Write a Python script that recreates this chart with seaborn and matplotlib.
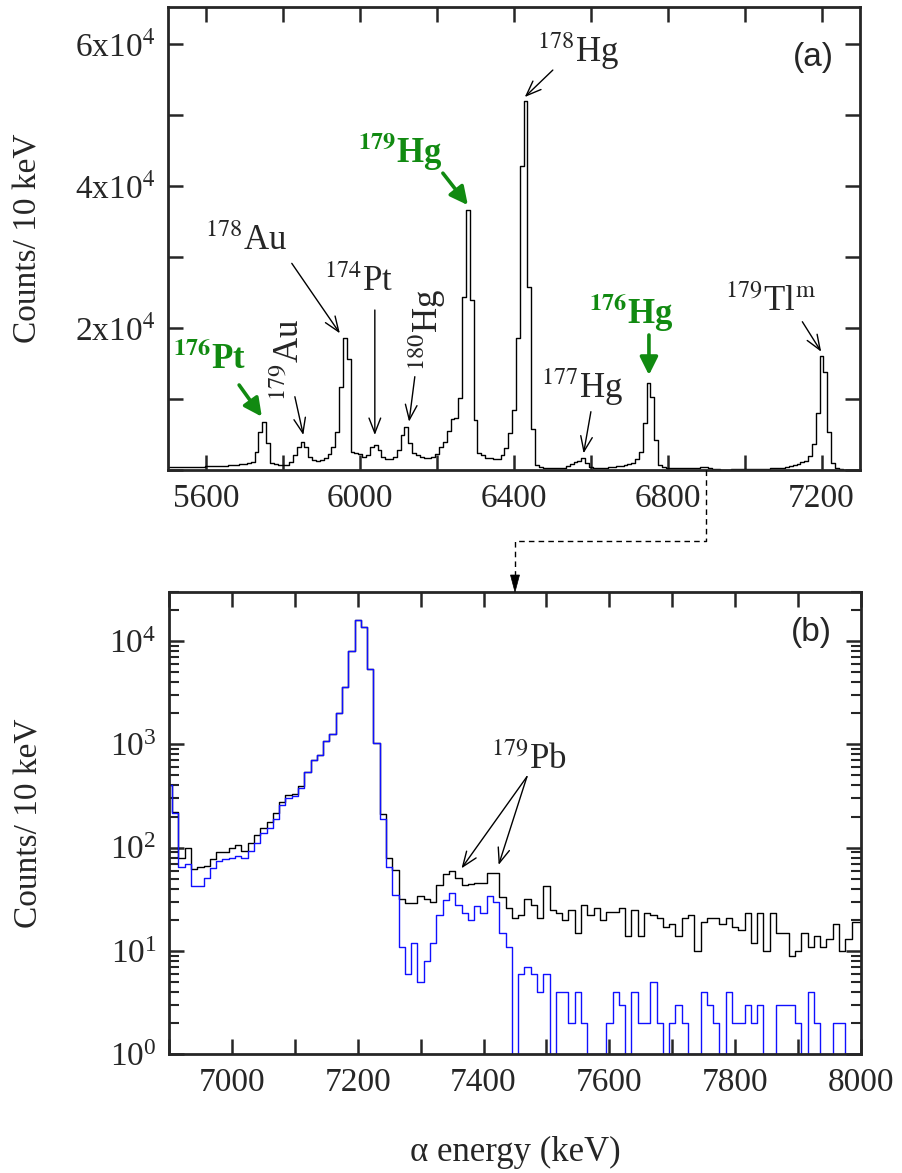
import numpy as np
import pandas as pd
import matplotlib
matplotlib.use("Agg")
import matplotlib.pyplot as plt
import seaborn as sns
from matplotlib.lines import Line2D
from matplotlib.patches import Polygon

sns.set_theme(style="ticks")
plt.rcParams["font.family"] = ["Liberation Serif", "DejaVu Serif"]
plt.rcParams["mathtext.fontset"] = "stix"

# ---------------------------------------------------------------- data
BIN_KEV = 10

# alpha spectrum 5500-6890 keV (counts per 10 keV bin)
counts_low = [
    420, 420, 420, 420, 430, 440, 450, 460, 470, 480,            # 5500
    500, 510, 530, 550, 580, 610, 650, 700, 760, 830,            # 5600
    900, 1000, 1150, 2490, 5400, 6800, 3755, 1000, 800, 700,     # 5700
    650, 750, 1100, 2112, 3286, 3990, 3286, 1877, 1408, 1250,    # 5800
    1400, 1700, 2300, 3300, 5400, 11640, 18540, 15580, 2581, 2400,  # 5900
    2200, 1877, 2112, 3286, 3520, 2800, 1877, 1502, 1600, 1877,  # 6000
    2800, 4928, 6010, 3755, 2400, 2112, 1900, 1760, 1643, 1800,  # 6100
    2300, 3300, 4000, 5500, 7200, 7275, 10200, 24300, 36600, 23940,  # 6200
    7040, 2440, 2112, 1643, 1643, 1502, 1502, 2112, 3051, 5162,  # 6300
    8450, 18540, 42800, 52000, 25810, 5726, 704, 375, 280, 250,  # 6400
    240, 240, 260, 320, 563, 800, 1173, 1300, 1643, 939,         # 6500
    470, 330, 300, 300, 320, 380, 450, 540, 600, 700,            # 6600
    850, 1000, 1500, 2600, 6664, 12296, 10325, 4224, 704, 375,   # 6700
    235, 235, 230, 230, 235, 240, 250, 270, 320, 470,            # 6800
]

# 6900-8000 keV, all events (black)
counts_total = [
    405, 223, 80, 100, 62, 65, 67, 78, 91, 91,                   # 6900
    100, 105, 93, 112, 133, 155, 177, 216, 276, 320,             # 7000
    330, 395, 540, 710, 782, 1085, 1270, 2010, 3640, 8050,       # 7100
    16070, 13860, 5330, 1025, 213, 80, 61, 32, 29, 29,           # 7200
    34, 32, 30, 43, 56, 60, 51, 43, 44, 45,                      # 7300
    45, 57, 57, 33, 26, 21, 22, 32, 28, 21,                      # 7400
    42, 25, 23, 20, 25, 15, 28, 22, 26, 20,                      # 7500
    24, 24, 26, 14, 25, 14, 23, 22, 21, 17,                      # 7600
    18, 14, 21, 22, 10, 19, 21, 21, 18, 21,                      # 7700
    17, 16, 23, 12, 23, 10, 23, 15, 15, 9,                       # 7800
    10, 15, 11, 14, 11, 13, 18, 10, 13, 19,                      # 7900
    19,                                                          # 8000
]

# 6900-8000 keV, selected events (blue)
counts_selected = [
    405, 215, 65, 70, 42, 42, 51, 63, 74, 78,
    80, 83, 80, 93, 110, 138, 155, 188, 260, 300,
    317, 380, 540, 710, 782, 1085, 1270, 2010, 3640, 8050,
    16070, 13860, 5330, 1025, 188, 65, 35, 11, 6, 12,
    5, 8, 12, 22, 31, 36, 28, 23, 20, 27,
    23, 34, 30, 15, 11, 1, 6, 7, 6, 4,
    6, 1, 4, 4, 2, 4, 2, 1, 1, 1,
    2, 4, 3, 1, 4, 2, 2, 5, 2, 1,
    2, 3, 2, 1, 1, 4, 3, 2, 1, 4,
    2, 2, 3, 2, 3, 1, 1, 3, 3, 3,
    2, 1, 4, 2, 1, 1, 2, 2, 1, 1,
    1,
]

energy_low = 5500 + BIN_KEV * np.arange(len(counts_low))
energy_zoom = 6900 + BIN_KEV * np.arange(len(counts_total))

spec_a = pd.DataFrame({
    "energy": np.concatenate([energy_low, energy_zoom]),
    "counts": np.concatenate([counts_low, counts_total]),
})
spec_a = spec_a[spec_a["energy"] <= 7300]

spec_b = pd.DataFrame({
    "energy": np.concatenate([energy_zoom, energy_zoom]),
    "counts": np.concatenate([counts_total, counts_selected]),
    "set": ["total"] * len(counts_total) + ["selected"] * len(counts_selected),
})

# ---------------------------------------------------------------- figure
W, H = 902, 1173
fig = plt.figure(figsize=(W / 100, H / 100), dpi=100)
ax_a = fig.add_axes([168 / W, 1 - 470 / H, (860 - 168) / W, (470 - 7) / H])
ax_b = fig.add_axes([169 / W, 1 - 1054 / H, (861 - 169) / W, (1054 - 592) / H])

GREEN = "#118a11"
TICK_FS = 24
ANN_FS = 25

# panel (a): linear spectrum
sns.lineplot(data=spec_a, x="energy", y="counts", ax=ax_a, color="black",
             lw=1.0, drawstyle="steps-mid", estimator=None)
ax_a.set_xlim(5500, 7300)
ax_a.set_ylim(0, 65200)
xt = np.arange(5600, 7201, 200)
ax_a.set_xticks(xt, [str(v) if v % 400 == 0 else "" for v in xt])
yt = np.arange(0, 60001, 10000)
ax_a.set_yticks(yt, ["" if (v == 0 or v % 20000) else f"{v // 10000}x10$^4$" for v in yt])
ax_a.set_xlabel("")
ax_a.set_ylabel("Counts/ 10 keV", fontsize=24)
ax_a.yaxis.set_label_coords(-0.18, 0.5)

# panel (b): logarithmic zoom
sns.lineplot(data=spec_b[spec_b["set"] == "total"], x="energy", y="counts", ax=ax_b,
             color="black", lw=1.0, drawstyle="steps-mid", estimator=None)
sns.lineplot(data=spec_b[spec_b["set"] == "selected"], x="energy", y="counts", ax=ax_b,
             color="#1010ff", lw=1.0, drawstyle="steps-mid", estimator=None)
ax_b.set_yscale("log")
ax_b.set_xlim(6900, 8000)
ax_b.set_ylim(1, 3e4)
xt_b = np.arange(6900, 8001, 100)
ax_b.set_xticks(xt_b, [str(v) if v % 200 == 0 else "" for v in xt_b])
ax_b.set_xlabel("α energy (keV)", fontsize=25)
ax_b.xaxis.set_label_coords(0.5, -0.178)
ax_b.set_ylabel("Counts/ 10 keV", fontsize=24)
ax_b.yaxis.set_label_coords(-0.18, 0.5)

for ax in (ax_a, ax_b):
    for sp in ax.spines.values():
        sp.set_linewidth(2.0)
        sp.set_visible(True)
    ax.tick_params(which="both", direction="in", top=True, right=True,
                   labelsize=TICK_FS, width=1.8)
    ax.tick_params(which="major", length=11, pad=9)
    ax.tick_params(axis="x", which="major", pad=10)
ax_b.tick_params(which="minor", length=7, width=1.5)
ax_b.tick_params(axis="x", which="minor", bottom=False, top=False)

# ---------------------------------------------------------------- labels (a)
black_labels = [
    ("$^{179}$Au", 5817, 15490, 90),
    ("$^{178}$Au", 5703, 32170, 0),
    ("$^{174}$Pt", 5996, 26400, 0),
    ("$^{180}$Hg", 6174, 19710, 90),
    ("$^{178}$Hg", 6568, 59000, 0),
    ("$^{177}$Hg", 6577, 11620, 0),
    ("$^{179}$Tl$^{\\rm m}$", 7067, 23580, 0),
]
for txt, x, y, rot in black_labels:
    ax_a.text(x, y, txt, fontsize=ANN_FS, ha="center", va="center", rotation=rot)

green_labels = [
    ("$^{\\mathbf{176}}$Pt", 5609, 15490),
    ("$^{\\mathbf{179}}$Hg", 6104, 44770),
    ("$^{\\mathbf{176}}$Hg", 6705, 22180),
]
for txt, x, y in green_labels:
    ax_a.text(x, y, txt, fontsize=ANN_FS, ha="center", va="center",
              color=GREEN, fontweight="bold")

thin = dict(arrowstyle="->,head_length=0.9,head_width=0.35", lw=1.0,
            color="black", shrinkA=0, shrinkB=0)
thick = dict(arrowstyle="-|>,head_length=0.9,head_width=0.45", lw=2.6,
             color=GREEN, shrinkA=0, shrinkB=0)

black_arrows = [
    ((5830, 10320), (5852, 4930)),
    ((5822, 29100), (5947, 19250)),
    ((6038, 22530), (6038, 4930)),
    ((6142, 13140), (6127, 6800)),
    ((6501, 56320), (6428, 52520)),
    ((6600, 8210), (6581, 2350)),
    ((7150, 20880), (7199, 16660)),
]
for start, end in black_arrows:
    ax_a.annotate("", xy=end, xytext=start, arrowprops=thin)

green_arrows = [
    ((5685, 11970), (5744, 7510)),
    ((6215, 41800), (6280, 37300)),
    ((6751, 19010), (6751, 13370)),
]
for start, end in green_arrows:
    ax_a.annotate("", xy=end, xytext=start, arrowprops=thick)

ax_a.text(0.932, 0.892, "(a)", transform=ax_a.transAxes, fontsize=24,
          family="Liberation Sans", ha="center", va="center")

# ---------------------------------------------------------------- labels (b)
ax_b.text(7472, 706, "$^{179}$Pb", fontsize=ANN_FS, ha="center", va="center")
for end in [(7365, 63), (7424, 68)]:
    ax_b.annotate("", xy=end, xytext=(7469, 487), arrowprops=thin)
ax_b.text(0.929, 0.913, "(b)", transform=ax_b.transAxes, fontsize=24,
          family="Liberation Sans", ha="center", va="center")

# ---------------------------------------------------------------- connector
to_fig = fig.transFigure.inverted()
x_top = to_fig.transform(ax_a.transData.transform((6900, 0)))[0]
x_bot = to_fig.transform(ax_b.transData.transform((7450, 1)))[0]
a_bottom = ax_a.get_position().y0
b_top = ax_b.get_position().y1
y_elbow = a_bottom - 0.58 * (a_bottom - b_top)
head_h, head_w = 17 / H, 4.5 / W
fig.add_artist(Line2D([x_top, x_top, x_bot, x_bot],
                      [a_bottom, y_elbow, y_elbow, b_top + head_h],
                      transform=fig.transFigure, color="black", lw=1.0,
                      linestyle=(0, (4, 3))))
fig.add_artist(Polygon([[x_bot - head_w, b_top + head_h],
                        [x_bot + head_w, b_top + head_h],
                        [x_bot, b_top]],
                       closed=True, transform=fig.transFigure,
                       facecolor="black", edgecolor="black", lw=0.5))

fig.savefig("out.png", dpi=100)
